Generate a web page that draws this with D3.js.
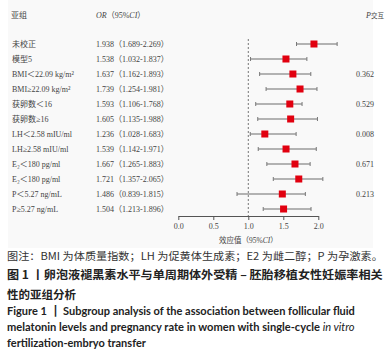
<!DOCTYPE html>
<html><head><meta charset="utf-8">
<script src="https://cdn.jsdelivr.net/npm/d3@7"></script>
<style>
html,body{margin:0;padding:0;background:#fff;}
svg{display:block;}
</style></head>
<body>
<svg id="c" width="387" height="356"></svg>
<script>
// ---- data ----
const labels = ["未校正","模型5","BMI＜22.09 kg/m²","BMI≥22.09 kg/m²","获卵数＜16","获卵数≥16","LH＜2.58 mIU/ml","LH≥2.58 mIU/ml","E₂＜180 pg/ml","E₂＜180 pg/ml","P＜5.27 ng/mL","P≥5.27 ng/mL"];
const orVals = [1.938,1.538,1.637,1.739,1.593,1.605,1.236,1.539,1.667,1.721,1.486,1.504];
const ciLow  = [1.689,1.032,1.162,1.254,1.106,1.135,1.028,1.142,1.265,1.357,0.839,1.213];
const ciHigh = [2.269,1.837,1.893,1.981,1.768,1.988,1.683,1.971,1.883,2.065,1.815,1.896];
const pInter = ["","","0.362","","0.529","","0.008","","0.671","","0.213",""];
const xTicks = [0,0.5,1.0,1.5,2.0];
const captionNote = "图注：BMI 为体质量指数；LH 为促黄体生成素；E2 为雌二醇；P 为孕激素。";
const captionCn = ["图 1 丨卵泡液褪黑素水平与单周期体外受精 – 胚胎移植女性妊娠率相关","性的亚组分析"];
const captionEn = ["Figure 1 丨 Subgroup analysis of the association between follicular fluid","melatonin levels and pregnancy rate in women with single-cycle |in vitro|","fertilization-embryo transfer"];

const svg = d3.select("#c");
const serif = "'Liberation Serif','Times New Roman','Noto Sans CJK SC',serif";
const sans = "'Noto Sans CJK SC','Noto Sans',sans-serif";
const txt = "#444";

svg.append("rect").attr("x",8).attr("y",0).attr("width",365).attr("height",248).attr("fill","#f9f9f9");

const x = d3.scaleLinear().domain([0,2]).range([178.3,318.3]);
const y = d3.scaleLinear().domain([0,11]).range([44,209]);

// header
const hdr = svg.append("g").attr("font-family",serif).attr("font-size",8).attr("fill",txt);
hdr.append("text").attr("x",11).attr("y",18).text("亚组");
const h2 = hdr.append("text").attr("x",96).attr("y",18);
h2.append("tspan").attr("font-style","italic").text("OR");
h2.append("tspan").text("（95%");
h2.append("tspan").attr("font-style","italic").text("CI");
h2.append("tspan").text("）");
const h3 = hdr.append("text").attr("x",366).attr("y",18);
h3.append("tspan").attr("font-style","italic").text("P");
h3.append("tspan").attr("font-size",6.5).text("交互");

// rows text
const rows = svg.append("g").attr("font-family",serif).attr("font-size",8).attr("fill",txt);
labels.forEach((l,i)=>{
  rows.append("text").attr("x",12).attr("y",y(i)).attr("dy","0.35em").text(l);
  rows.append("text").attr("x",96).attr("y",y(i)).attr("dy","0.35em")
    .text(d3.format(".3f")(orVals[i])+"（"+d3.format(".3f")(ciLow[i])+"-"+d3.format(".3f")(ciHigh[i])+"）");
  if(pInter[i]) rows.append("text").attr("x",356).attr("y",y(i)).attr("dy","0.35em").text(pInter[i]);
});

// reference line
svg.append("line").attr("x1",x(1)).attr("x2",x(1)).attr("y1",39).attr("y2",216)
  .attr("stroke","#555").attr("stroke-width",0.8).attr("stroke-dasharray","2,2");

// CI
const g = svg.append("g");
orVals.forEach((v,i)=>{
  g.append("line").attr("x1",x(ciLow[i])).attr("x2",x(ciHigh[i])).attr("y1",y(i)).attr("y2",y(i))
    .attr("stroke","#9a9a9a").attr("stroke-width",1.5);
  [ciLow[i],ciHigh[i]].forEach(c=>{
    g.append("line").attr("x1",x(c)).attr("x2",x(c)).attr("y1",y(i)-2).attr("y2",y(i)+2)
      .attr("stroke","#777").attr("stroke-width",1);
  });
  g.append("rect").attr("x",x(v)-3.5).attr("y",y(i)-3.5).attr("width",7).attr("height",7).attr("fill","#e1000f");
});

// axis
const ax = svg.append("g").attr("transform","translate(0,216)")
  .call(d3.axisBottom(x).tickValues(xTicks).tickFormat(d3.format(".1f")).tickSize(4).tickSizeOuter(0).tickPadding(3));
ax.select(".domain").attr("stroke","#555");
ax.selectAll(".tick line").attr("stroke","#555");
ax.selectAll("text").attr("font-family",serif).attr("font-size",8).attr("fill",txt);
const at = svg.append("text").attr("x",x(1)).attr("y",243).attr("text-anchor","middle")
  .attr("font-family",serif).attr("font-size",7.5).attr("fill",txt);
at.append("tspan").text("效应值（95%");
at.append("tspan").attr("font-style","italic").text("CI");
at.append("tspan").text("）");

// captions
function fit(sel, x0, yy, target){
  const w = sel.node().getComputedTextLength();
  sel.attr("x",0).attr("y",0).attr("transform",`translate(${x0},${yy}) scale(${target/w},1)`);
}
const c1 = svg.append("text").attr("font-family",sans).attr("font-size",10.5).attr("fill","#333").text(captionNote);
fit(c1,7,260,376);
const c2 = svg.append("text").attr("font-family",sans).attr("font-size",11.5).attr("font-weight","bold").attr("fill","#222").text(captionCn[0]);
fit(c2,7,279,376);
svg.append("text").attr("font-family",sans).attr("font-size",11.5).attr("font-weight","bold").attr("fill","#222")
  .attr("x",7).attr("y",299).text(captionCn[1]);
const enW = [349,348,139];
const enY = [315,331,347];
captionEn.forEach((s,i)=>{
  const t = svg.append("text").attr("font-family","Lato,'Open Sans',sans-serif").attr("font-size",11.5)
    .attr("font-weight","bold").attr("fill","#222");
  s.split("|").forEach((part,j)=>{
    if(!part) return;
    t.append("tspan").attr("font-style", j%2===1?"italic":"normal").attr("font-weight", j%2===1?"normal":"bold").text(part);
  });
  fit(t,7,enY[i],enW[i]);
});
</script>
</body></html>
